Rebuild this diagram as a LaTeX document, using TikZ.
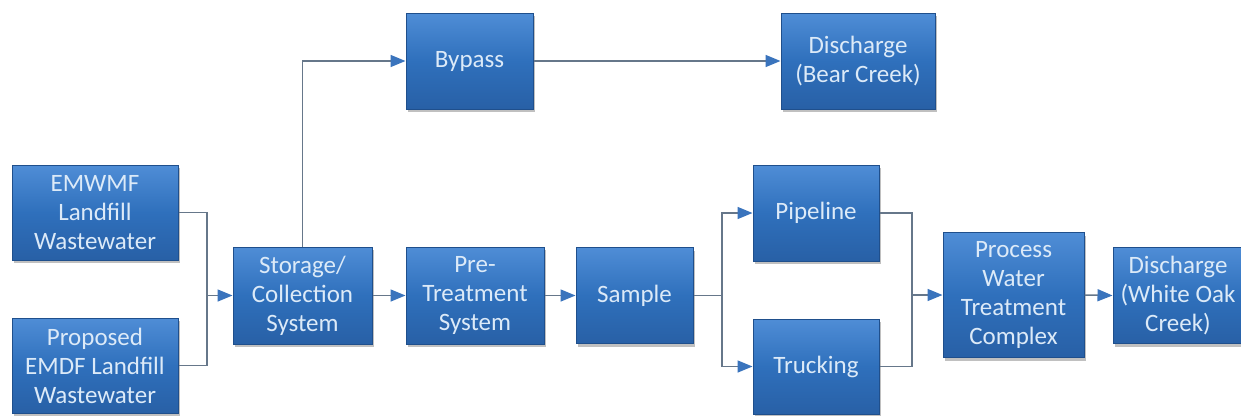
\documentclass[tikz,border=0pt]{standalone}
\usepackage{fontspec}
\setmainfont{Carlito}
\usetikzlibrary{arrows.meta,shadows}
\definecolor{boxmid}{HTML}{2F70BC}
\definecolor{boxtop}{HTML}{4F8DD6}
\definecolor{boxbot}{HTML}{2860A6}
\definecolor{boxedge}{HTML}{1F4F8C}
\definecolor{txt}{HTML}{DCEAF8}
\definecolor{linegray}{HTML}{66778A}
\definecolor{arrowblue}{HTML}{3A74BD}
\tikzset{
  blk/.style={draw=boxedge, line width=1pt, top color=boxtop, bottom color=boxbot, middle color=boxmid,
    drop shadow={shadow xshift=2pt, shadow yshift=-3pt, opacity=0.35, fill=black!70},
    text=txt, align=center, inner sep=0pt,
    font=\fontsize{25}{29}\selectfont},
  conn/.style={draw=linegray, line width=1.5pt},
  arr/.style={conn, -{Triangle[length=15pt,width=12pt,color=arrowblue,fill=arrowblue]}}
}
\begin{document}
\begin{tikzpicture}[x=1pt,y=1pt]
\useasboundingbox (0,0) rectangle (1241,-415);
\clip (0,0) rectangle (1241,-415);
\fill[white] (0,0) rectangle (1241,-415);

\node[blk, minimum width=166pt, minimum height=95pt] (emwmf) at (95,-212.5) {EMWMF\\Landfill\\Wastewater};
\node[blk, minimum width=166pt, minimum height=95pt] (prop) at (95,-365.5) {Proposed\\EMDF Landfill\\Wastewater};
\node[blk, minimum width=139pt, minimum height=97pt] (stor) at (302.5,-295.5) {Storage/\\Collection\\System};
\node[blk, minimum width=138pt, minimum height=97pt] (pret) at (475,-295.5) {Pre-\\Treatment\\System};
\node[blk, minimum width=127pt, minimum height=96pt] (bypass) at (469.5,-61) {Bypass};
\node[blk, minimum width=154pt, minimum height=96pt] (bear) at (858,-61) {Discharge\\(Bear Creek)};
\node[blk, minimum width=117pt, minimum height=96pt] (sample) at (634.5,-295.5) {Sample};
\node[blk, minimum width=126pt, minimum height=96pt] (pipe) at (816,-213) {Pipeline};
\node[blk, minimum width=126pt, minimum height=95pt] (truck) at (816,-366.5) {Trucking};
\node[blk, minimum width=141pt, minimum height=125pt] (proc) at (1013.5,-295) {Process\\Water\\Treatment\\Complex};
\node[blk, minimum width=130pt, minimum height=96pt] (white) at (1178,-295.5) {Discharge\\(White Oak\\Creek)};

\coordinate (j1) at (207,-295.5);
\coordinate (j2) at (722,-295.5);
\coordinate (j3) at (912,-295);

\draw[conn] (emwmf.east) -| (j1) |- (prop.east);
\draw[arr] (j1) -- (stor.west);
\draw[arr] (stor.north) |- (bypass.west);
\draw[arr] (bypass.east) -- (bear.west);
\draw[arr] (stor.east) -- (pret.west);
\draw[arr] (pret.east) -- (sample.west);
\draw[conn] (sample.east) -- (j2);
\draw[arr] (j2) |- (pipe.west);
\draw[arr] (j2) |- (truck.west);
\draw[conn] (pipe.east) -| (j3) |- (truck.east);
\draw[arr] (j3) -- (proc.west);
\draw[arr] (proc.east) -- (white.west);
\end{tikzpicture}
\end{document}
